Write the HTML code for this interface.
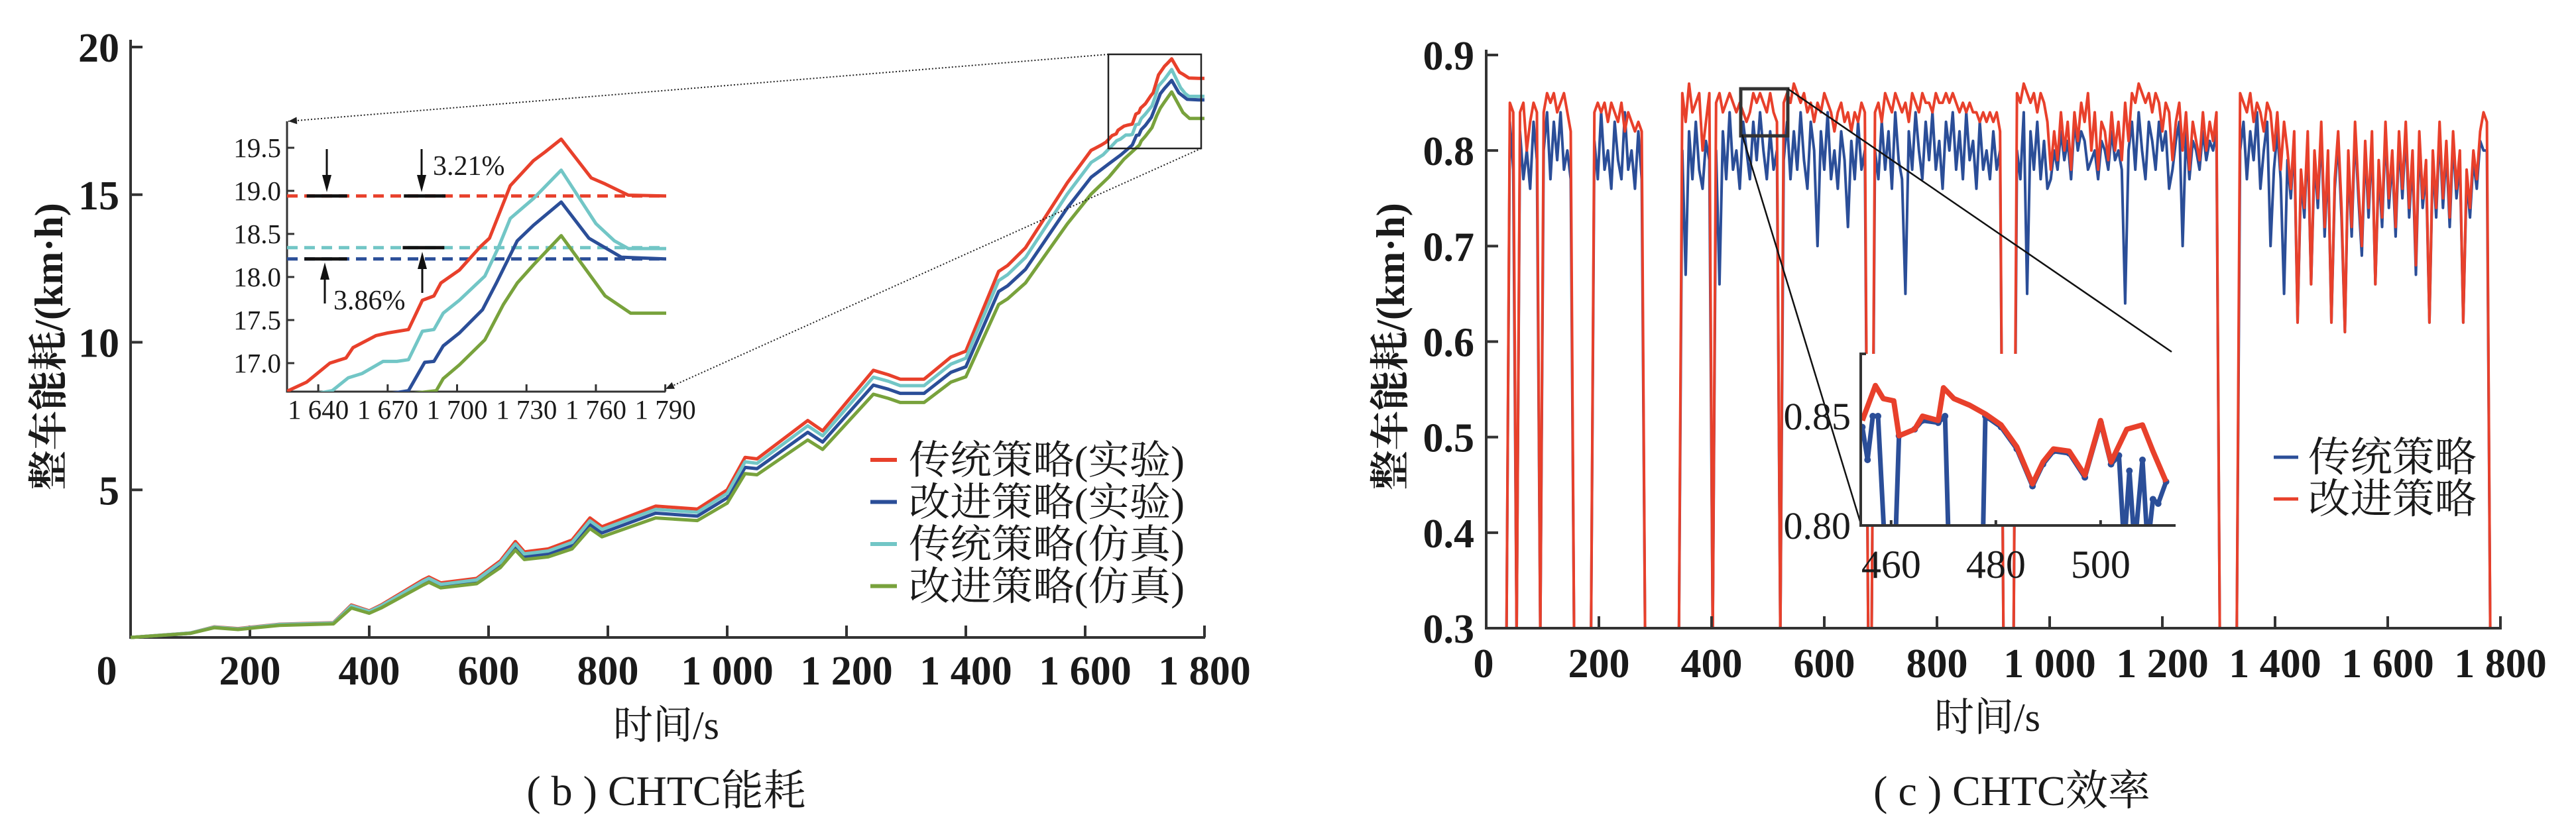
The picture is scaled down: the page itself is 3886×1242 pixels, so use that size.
<!DOCTYPE html>
<html><head><meta charset="utf-8">
<style>
html,body{margin:0;padding:0;background:#fff;width:3886px;height:1242px;overflow:hidden;}
svg{display:block;}
text{font-family:"Liberation Serif","Noto Serif CJK SC",serif;fill:#1a1a1a;}
</style></head>
<body>
<svg id="fig" width="3886" height="1242" viewBox="0 0 3886 1242" xmlns="http://www.w3.org/2000/svg">
<rect x="0" y="0" width="3886" height="1242" fill="#fff"/>
<defs>
<clipPath id="clipL"><rect x="195" y="40" width="1630" height="930"/></clipPath>
<clipPath id="clipLI"><rect x="433" y="183" width="572" height="408"/></clipPath>
<clipPath id="clipR"><rect x="2240" y="40" width="1540" height="906"/></clipPath>
<clipPath id="clipRI"><rect x="2807" y="534" width="475" height="259"/></clipPath>
</defs>
<g id="left"></g>
<g id="right"></g>
</svg>
<script>
// ---------- left chart data (energy consumption) ----------
const mainTimes=[0,100,140,180,250,340,370,400,420,490,500,520,580,620,645,660,700,740,770,790,880,950,1000,1030,1050,1135,1160,1245,1270,1290,1330,1375,1400,1455,1470,1500,1570,1610];
const redBase=[0,0.15,0.36,0.3,0.45,0.5,1.1,0.9,1.1,1.95,2.05,1.85,2.0,2.6,3.25,2.9,3.0,3.3,4.05,3.75,4.45,4.35,5.0,6.1,6.05,7.35,7.0,9.05,8.9,8.75,8.75,9.5,9.7,12.4,12.6,13.2,15.4,16.5];
const cyanBase=[0,0.15,0.35,0.29,0.44,0.49,1.07,0.88,1.07,1.9,2.0,1.8,1.95,2.54,3.17,2.83,2.93,3.22,3.95,3.66,4.34,4.24,4.88,5.95,5.9,7.17,6.83,8.82,8.68,8.53,8.53,9.26,9.46,12.09,12.29,12.87,15.02,16.09];
const blueBase=[0,0.14,0.34,0.28,0.43,0.47,1.04,0.85,1.04,1.84,1.94,1.75,1.89,2.46,3.07,2.74,2.84,3.12,3.83,3.54,4.21,4.11,4.73,5.76,5.72,6.95,6.62,8.55,8.41,8.27,8.27,8.98,9.17,11.72,11.91,12.47,14.55,15.59];
const greenBase=[0,0.14,0.33,0.27,0.41,0.46,1.0,0.82,1.0,1.77,1.87,1.68,1.82,2.37,2.96,2.64,2.73,3.0,3.69,3.41,4.05,3.96,4.55,5.55,5.51,6.69,6.37,8.24,8.1,7.96,7.96,8.65,8.83,11.28,11.47,12.01,14.01,15.02];
const redTailT=[1627,1635,1645,1652,1655,1665,1670,1679,1685,1690,1693,1701,1710,1714,1723,1733,1738,1745,1758,1764,1774,1790,1800];
const redTail=[16.68,16.78,17.0,17.06,17.18,17.32,17.35,17.39,17.73,17.78,17.93,18.08,18.35,18.45,19.06,19.35,19.45,19.6,19.15,19.08,18.95,18.94,18.94];
const cyanTailT=[1630,1646,1653,1659,1668,1674,1679,1685,1690,1694,1701,1712,1718,1723,1733,1745,1760,1768,1774,1790,1800];
const cyanTail=[16.35,16.68,16.83,16.88,17.02,17.02,17.04,17.37,17.39,17.58,17.73,18.01,18.35,18.68,18.91,19.24,18.62,18.42,18.33,18.33,18.33];
const blueTailT=[1640,1660,1679,1686,1690,1694,1701,1711,1717,1726,1733,1745,1757,1771,1790,1800];
const blueTail=[16.05,16.35,16.68,17.01,17.02,17.2,17.35,17.62,17.93,18.42,18.6,18.87,18.45,18.23,18.21,18.21];
const greenTailT=[1640,1665,1691,1694,1701,1712,1720,1726,1733,1745,1764,1775,1790,1800];
const greenTail=[15.6,16.2,16.68,16.82,16.98,17.27,17.68,17.93,18.14,18.48,17.78,17.58,17.58,17.58];
const leftXTicks=[0,200,400,600,800,1000,1200,1400,1600,1800];
const leftXLabels=["0","200","400","600","800","1 000","1 200","1 400","1 600","1 800"];
const leftYTicks=[5,10,15,20];
const insetXTicks=[1640,1670,1700,1730,1760,1790];
const insetXLabels=["1 640","1 670","1 700","1 730","1 760","1 790"];
const insetYTicks=[17.0,17.5,18.0,18.5,19.0,19.5];
const refRedExp=18.94, refCyanSim=18.34, refBlueExp=18.21;
const legendLeft=["传统策略(实验)","改进策略(实验)","传统策略(仿真)","改进策略(仿真)"];

// ---------- right chart data (efficiency, sampled every 6 s) ----------
const sampleStep=6;
const effRed=[0,0,0,0,0,0,0,0.85,0.84,0,0.84,0.85,0.80,0.83,0.85,0.84,0,0.84,0.86,0.85,0.86,0.84,0.85,0.86,0.84,0.82,0,0,0,0,0,0,
0.84,0.85,0.84,0.85,0.83,0.85,0.84,0.83,0.85,0.82,0.84,0.83,0.82,0.83,0.82,0,0,0,0,0,0,0,0,0,0,0,
0.86,0.83,0.87,0.84,0.85,0.86,0.80,0.83,0.86,0,
0.85,0.86,0.84,0.85,0.86,0.85,0.84,0.85,0.84,0.83,0.84,0.86,0.85,0.86,0.85,0.84,0.86,0.84,0.83,0,
0.85,0.86,0.85,0.87,0.86,0.85,0.86,0.84,0.85,0.83,0.85,0.84,0.86,0.85,0.84,0.82,0.84,0.85,0.83,0.84,0.82,0.84,0.83,0.85,0.84,0,0,
0.84,0.85,0.83,0.86,0.85,0.84,0.86,0.85,0.84,0.85,0.83,0.86,0.85,0.84,0.86,0.85,0.85,0.84,0.86,0.85,0.85,0.86,0.85,0.86,0.85,0.84,0.85,0.84,0.85,0.84,0.84,0.83,0.84,0.83,0.84,0.83,0.84,0.82,0,0,0,0,
0.86,0.85,0.87,0.86,0.85,0.86,0.84,0.86,0.85,0.83,0.78,0.82,0.79,0.84,0.80,0.83,0.78,0.84,0.81,0.85,
0.83,0.86,0.80,0.84,0.78,0.83,0.82,0.79,0.84,0.80,0.83,0.79,0.85,0.81,0.86,0.85,0.87,0.86,0.85,0.86,
0.84,0.86,0.85,0.82,0.85,0.84,0.79,0.83,0.85,0.80,0.84,0.78,0.83,0.81,0.79,0.84,0.80,0.83,0.81,0.84,0,0,0,0,0,0,
0.86,0.85,0.84,0.86,0.83,0.85,0.84,0.82,0.85,0.84,0.80,0.84,0.78,0.83,0.80,0.76,0.82,0.62,0.78,0.74,
0.82,0.66,0.80,0.75,0.83,0.72,0.80,0.62,0.77,0.82,0.74,0.61,0.80,0.72,0.83,0.76,0.70,0.81,0.74,0.82,
0.66,0.79,0.73,0.83,0.75,0.80,0.72,0.82,0.76,0.83,0.74,0.80,0.68,0.82,0.75,0.79,0.62,0.80,0.74,0.83,
0.75,0.81,0.73,0.82,0.76,0.80,0.62,0.78,0.74,0.80,0.77,0.82,0.84,0.83,0,0,0,0];
const effBlue=[0,0,0,0,0,0,0,0.83,0.78,0,0.82,0.77,0.80,0.76,0.83,0.79,0,0.80,0.84,0.77,0.83,0.79,0.84,0.78,0.80,0.77,0,0,0,0,0,0,
0.81,0.77,0.84,0.78,0.80,0.76,0.83,0.79,0.77,0.84,0.78,0.80,0.76,0.82,0.77,0,0,0,0,0,0,0,0,0,0,0,
0.80,0.67,0.82,0.77,0.83,0.78,0.76,0.81,0.79,0,
0.80,0.66,0.82,0.77,0.84,0.78,0.80,0.76,0.83,0.80,0.77,0.83,0.79,0.84,0.80,0.77,0.82,0.78,0.80,0,
0.79,0.83,0.77,0.82,0.78,0.84,0.79,0.76,0.83,0.80,0.70,0.82,0.78,0.84,0.77,0.80,0.76,0.82,0.79,0.72,0.81,0.77,0.83,0.78,0.80,0,0,
0.80,0.77,0.83,0.78,0.82,0.76,0.84,0.79,0.77,0.65,0.82,0.78,0.84,0.80,0.77,0.83,0.79,0.84,0.78,0.81,0.76,0.83,0.80,0.84,0.78,0.82,0.77,0.84,0.79,0.81,0.76,0.83,0.78,0.80,0.77,0.82,0.78,0.80,0,0,0,0,
0.80,0.77,0.84,0.65,0.82,0.78,0.83,0.77,0.81,0.76,0.77,0.80,0.78,0.82,0.79,0.81,0.77,0.83,0.80,0.82,
0.81,0.78,0.79,0.80,0.77,0.81,0.80,0.78,0.82,0.79,0.80,0.78,0.64,0.80,0.83,0.78,0.84,0.80,0.77,0.83,
0.81,0.78,0.83,0.80,0.82,0.76,0.78,0.81,0.83,0.70,0.82,0.77,0.81,0.80,0.78,0.82,0.79,0.81,0.80,0.82,0,0,0,0,0,0,
0.80,0.83,0.77,0.82,0.79,0.84,0.76,0.80,0.83,0.70,0.78,0.82,0.77,0.65,0.79,0.75,0.81,0.62,0.77,0.73,
0.81,0.66,0.79,0.74,0.82,0.71,0.79,0.62,0.76,0.81,0.73,0.61,0.79,0.71,0.82,0.75,0.69,0.80,0.73,0.81,
0.66,0.78,0.72,0.82,0.74,0.79,0.71,0.81,0.75,0.82,0.73,0.79,0.67,0.81,0.74,0.78,0.62,0.79,0.73,0.82,
0.74,0.80,0.72,0.81,0.75,0.79,0.62,0.77,0.73,0.79,0.76,0.81,0.80,0.80,0,0,0,0];
const riRedT=[454.5,457,458.5,460.5,461.5,464.5,466,469,470,472,475,478,481,484,487,489,491,494,497,500,502,505,508,510,512.5];
const riRed=[0.848,0.864,0.858,0.857,0.841,0.844,0.85,0.848,0.863,0.858,0.855,0.851,0.846,0.836,0.819,0.829,0.835,0.834,0.823,0.848,0.829,0.844,0.846,0.834,0.82];
const riBlueT=[454.5,455.5,456.5,457.5,458.8,460.8,461.5,464.5,466,469,470.3,471,477.5,478,481,484,487,489,491,494,497,500,502,503.5,504.5,505.5,506.5,508,509,510,511,512.5];
const riBlue=[0.845,0.83,0.85,0.85,0.79,0.79,0.841,0.844,0.848,0.847,0.85,0.79,0.79,0.85,0.845,0.835,0.818,0.828,0.834,0.833,0.822,0.847,0.828,0.832,0.79,0.825,0.79,0.83,0.79,0.812,0.81,0.82];
const rightXTicks=[0,200,400,600,800,1000,1200,1400,1600,1800];
const rightXLabels=["0","200","400","600","800","1 000","1 200","1 400","1 600","1 800"];
const rightYTicks=[0.3,0.4,0.5,0.6,0.7,0.8,0.9];
const riXTicks=[460,480,500];
const riYTicks=[0.80,0.85];
const legendRight=["传统策略","改进策略"];

const C={red:"#e8402b",blue:"#2b4e98",cyan:"#72c6c6",green:"#78a23c",axis:"#333"};
const NS="http://www.w3.org/2000/svg";
function mk(parent,tag,attrs,txt){const e=document.createElementNS(NS,tag);for(const k in attrs)e.setAttribute(k,attrs[k]);if(txt!==undefined)e.textContent=txt;parent.appendChild(e);return e;}
function pts(ts,vs,fx,fy){return ts.map((t,i)=>fx(t).toFixed(1)+","+fy(vs[i]).toFixed(1)).join(" ");}

// ---------- LEFT ----------
const L=document.getElementById('left');
const xL=t=>197+t*0.9, yL=v=>962-v*44.55;
const xI=t=>433+(Math.max(t,1622)-1626.5)*3.49, yI=v=>548-(Math.max(v,16.6)-17)*130;

let e;
e=mk(L,'path',{d:`M197,60 V962 H1818`,fill:'none',stroke:C.axis,'stroke-width':4});
 
leftXTicks.forEach((t,i)=>{
  e=mk(L,'line',{x1:xL(t),x2:xL(t),y1:962,y2:944,stroke:C.axis,'stroke-width':4});
   
  e=mk(L,'text',{x:i===0?161:xL(t),y:1033,'font-size':62,'text-anchor':'middle','font-weight':'bold'},leftXLabels[i]);
   
});
leftYTicks.forEach(v=>{
  e=mk(L,'line',{x1:197,x2:215,y1:yL(v),y2:yL(v),stroke:C.axis,'stroke-width':4});
   
  e=mk(L,'text',{x:180,y:yL(v)+22,'font-size':62,'text-anchor':'end','font-weight':'bold'},String(v));
   
});
e=mk(L,'text',{x:0,y:0,'font-size':60,'font-weight':'bold','text-anchor':'middle',transform:'translate(94,523) rotate(-90)'},'整车能耗/(km·h)');
 
e=mk(L,'text',{x:1005,y:1115,'font-size':60,'text-anchor':'middle'},'时间/s');
 
e=mk(L,'text',{x:1005,y:1215,'font-size':64,'text-anchor':'middle'},'( b ) CHTC能耗');
 

const series=[
 ['red',redBase,redTailT,redTail,'series-traditional-experiment'],
 ['blue',blueBase,blueTailT,blueTail,'series-improved-experiment'],
 ['cyan',cyanBase,cyanTailT,cyanTail,'series-traditional-simulation'],
 ['green',greenBase,greenTailT,greenTail,'series-improved-simulation']];
series.forEach(s=>{
  const ts=mainTimes.concat(s[2]), vs=s[1].concat(s[3]);
  e=mk(L,'polyline',{points:pts(ts,vs,xL,yL),fill:'none',stroke:C[s[0]],'stroke-width':5,'stroke-linejoin':'round','clip-path':'url(#clipL)'});
   
});
legendLeft.forEach((lab,i)=>{
  const y=694+i*63.5, col=[C.red,C.blue,C.cyan,C.green][i];
  e=mk(L,'line',{x1:1313,x2:1353,y1:y,y2:y,stroke:col,'stroke-width':6});
   
  e=mk(L,'text',{x:1371,y:y+21,'font-size':60,textLength:416,lengthAdjust:'spacingAndGlyphs'},lab);
   
});
e=mk(L,'rect',{x:1672,y:82,width:140,height:142,fill:'none',stroke:'#222','stroke-width':2.5});
 
[[1672,82,435,183],[1812,224,1004,587]].forEach(c=>{
  e=mk(L,'line',{x1:c[0],y1:c[1],x2:c[2],y2:c[3],stroke:'#222','stroke-width':2,'stroke-dasharray':'2 3'});
   
  const a=Math.atan2(c[3]-c[1],c[2]-c[0]),h=14;
  const p=[[c[2],c[3]],[c[2]-h*Math.cos(a-0.4),c[3]-h*Math.sin(a-0.4)],[c[2]-h*Math.cos(a+0.4),c[3]-h*Math.sin(a+0.4)]];
  e=mk(L,'polygon',{points:p.map(q=>q.join(',')).join(' '),fill:'#222'});
   
});
e=mk(L,'path',{d:`M433,183 V591 H1004`,fill:'none',stroke:C.axis,'stroke-width':3});
 
insetXTicks.forEach((t,i)=>{
  e=mk(L,'line',{x1:xI(t),x2:xI(t),y1:591,y2:580,stroke:C.axis,'stroke-width':3});
   
  e=mk(L,'text',{x:xI(t),y:632,'font-size':41,'text-anchor':'middle'},insetXLabels[i]);
   
});
insetYTicks.forEach(v=>{
  e=mk(L,'line',{x1:433,x2:444,y1:yI(v),y2:yI(v),stroke:C.axis,'stroke-width':3});
   
  e=mk(L,'text',{x:424,y:yI(v)+14,'font-size':41,'text-anchor':'end'},v.toFixed(1));
   
});
[[refRedExp,C.red,'ref-line-traditional-exp'],[refCyanSim,C.cyan,'ref-line-traditional-sim'],[refBlueExp,C.blue,'ref-line-improved-exp']].forEach(r=>{
  e=mk(L,'line',{x1:433,x2:1004,y1:yI(r[0]),y2:yI(r[0]),stroke:r[1],'stroke-width':5,'stroke-dasharray':'16 10'});
   
});
series.forEach(s=>{
  const ts=mainTimes.concat(s[2]), vs=s[1].concat(s[3]);
  e=mk(L,'polyline',{points:pts(ts,vs,xI,yI),fill:'none',stroke:C[s[0]],'stroke-width':5,'stroke-linejoin':'round','clip-path':'url(#clipLI)'});
   
});
[[refRedExp,1635,1652.5],[refRedExp,1677,1695],[refBlueExp,1634,1652.5],[refCyanSim,1676.5,1694.5]].forEach(b=>{
  e=mk(L,'line',{x1:xI(b[1]),x2:xI(b[2]),y1:yI(b[0]),y2:yI(b[0]),stroke:'#111','stroke-width':5});
   
});
function arrow(x,y1,y2,name){
  e=mk(L,'line',{x1:x,x2:x,y1:y1,y2:y2+(y2>y1?-14:14),stroke:'#111','stroke-width':3});
   
  const d=y2>y1?-1:1;
  e=mk(L,'polygon',{points:`${x},${y2} ${x-7},${y2+d*26} ${x+7},${y2+d*26}`,fill:'#111'});
   
}
arrow(493,225,290,'arrow-down-1'); arrow(636,225,290,'arrow-down-2');
arrow(490,458,396,'arrow-up-1'); arrow(637,442,380,'arrow-up-2');
e=mk(L,'text',{x:653,y:264,'font-size':42},'3.21%');
 
e=mk(L,'text',{x:503,y:467,'font-size':42},'3.86%');
 

// ---------- RIGHT ----------
const R=document.getElementById('right');
const xR=t=>2242+t*0.85, yR=v=>948-(Math.max(v,0.29)-0.3)*1441.7;
const xRI=t=>2807+(t-454.2)*7.9, yRI=v=>628-(v-0.85)*3300;
const effTimes=effRed.map((v,i)=>i*sampleStep);
e=mk(R,'polyline',{points:pts(effTimes,effBlue,xR,yR),fill:'none',stroke:C.blue,'stroke-width':4,'stroke-linejoin':'round','clip-path':'url(#clipR)'});
 
e=mk(R,'polyline',{points:pts(effTimes,effRed,xR,yR),fill:'none',stroke:C.red,'stroke-width':4,'stroke-linejoin':'round','clip-path':'url(#clipR)'});
 
e=mk(R,'path',{d:`M2242,75 V948 H3774`,fill:'none',stroke:C.axis,'stroke-width':4});
 
rightXTicks.forEach((t,i)=>{
  e=mk(R,'line',{x1:xR(t),x2:xR(t),y1:948,y2:930,stroke:C.axis,'stroke-width':4});
   
  e=mk(R,'text',{x:i===0?2238:xR(t),y:1022,'font-size':62,'text-anchor':'middle','font-weight':'bold'},rightXLabels[i]);
   
});
rightYTicks.forEach(v=>{
  e=mk(R,'line',{x1:2242,x2:2260,y1:yR(v),y2:yR(v),stroke:C.axis,'stroke-width':4});
   
  e=mk(R,'text',{x:2224,y:yR(v)+22,'font-size':62,'text-anchor':'end','font-weight':'bold'},v.toFixed(1));
   
});
e=mk(R,'text',{x:0,y:0,'font-size':60,'font-weight':'bold','text-anchor':'middle',transform:'translate(2118,523) rotate(-90)'},'整车能耗/(km·h)');
 
e=mk(R,'text',{x:2998,y:1103,'font-size':60,'text-anchor':'middle'},'时间/s');
 
e=mk(R,'text',{x:3035,y:1215,'font-size':64,'text-anchor':'middle'},'( c ) CHTC效率');
 
legendRight.forEach((lab,i)=>{
  const y=690+i*63, col=[C.blue,C.red][i];
  e=mk(R,'line',{x1:3430,x2:3467,y1:y,y2:y,stroke:col,'stroke-width':5});
   
  e=mk(R,'text',{x:3482,y:y+21,'font-size':62,textLength:254,lengthAdjust:'spacingAndGlyphs'},lab);
   
});
e=mk(R,'rect',{x:2626,y:134,width:71,height:71,fill:'none',stroke:'#333','stroke-width':5});
 
e=mk(R,'rect',{x:2807,y:534,width:475,height:259,fill:'#fff'});
 
e=mk(R,'line',{x1:2628,y1:203,x2:2807,y2:790,stroke:'#111','stroke-width':2.5});
 
e=mk(R,'line',{x1:2697,y1:134,x2:3276,y2:531,stroke:'#111','stroke-width':2.5});
 
e=mk(R,'polyline',{points:pts(riBlueT,riBlue,xRI,yRI),fill:'none',stroke:C.blue,'stroke-width':7,'stroke-linejoin':'round','clip-path':'url(#clipRI)'});
 
riBlueT.forEach((t,i)=>{
  e=mk(R,'circle',{cx:xRI(t),cy:yRI(riBlue[i]),r:5,fill:C.blue,'clip-path':'url(#clipRI)'});
   
});
e=mk(R,'polyline',{points:pts(riRedT,riRed,xRI,yRI),fill:'none',stroke:C.red,'stroke-width':8,'stroke-linejoin':'round','clip-path':'url(#clipRI)'});
 
e=mk(R,'path',{d:`M2815,534 H2807 V793 H3282`,fill:'none',stroke:C.axis,'stroke-width':4});
 
riXTicks.forEach(t=>{
  e=mk(R,'line',{x1:xRI(t),x2:xRI(t),y1:793,y2:785,stroke:C.axis,'stroke-width':4});
   
  e=mk(R,'text',{x:xRI(t),y:872,'font-size':60,'text-anchor':'middle'},String(t));
   
});
riYTicks.forEach(v=>{
  e=mk(R,'text',{x:2792,y:yRI(v)+20,'font-size':58,'text-anchor':'end'},v.toFixed(2));
   
});
</script>
</body></html>
